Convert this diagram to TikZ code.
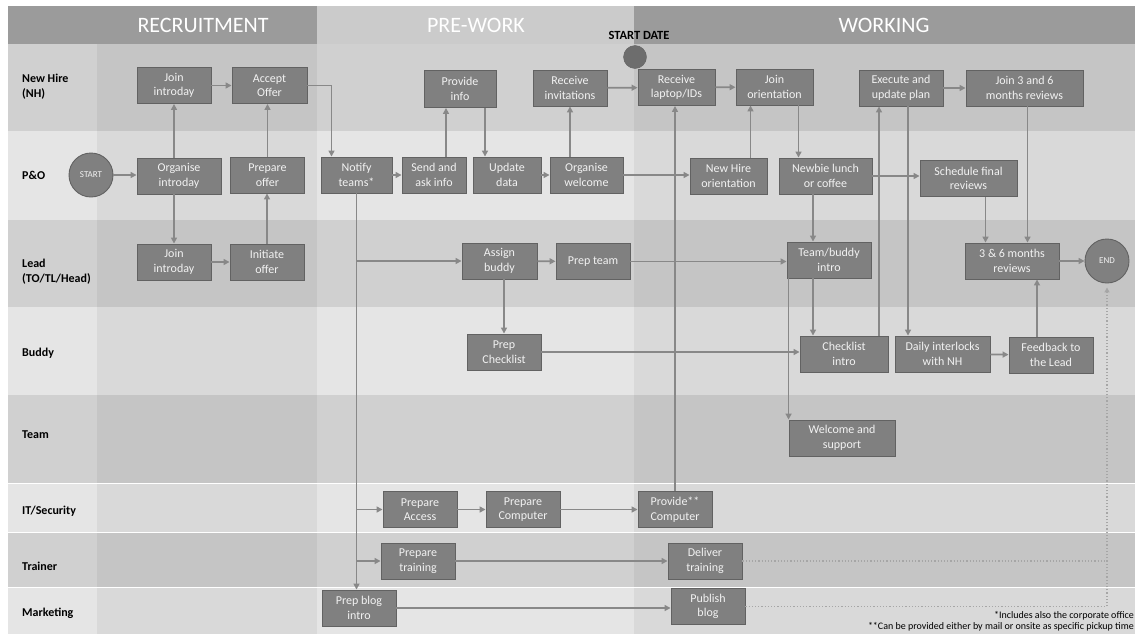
\documentclass[tikz,border=0pt]{standalone}
\usepackage{fontspec}
\setmainfont{Carlito}
\usetikzlibrary{arrows.meta,positioning,calc}
\definecolor{lanedark}{RGB}{208,208,208}
\definecolor{lanelight}{RGB}{229,229,229}
\definecolor{headdark}{RGB}{155,155,155}
\definecolor{headlight}{RGB}{203,203,203}
\definecolor{boxfill}{RGB}{128,128,128}
\definecolor{boxborder}{RGB}{98,98,98}
\definecolor{boxtext}{RGB}{242,242,242}
\definecolor{linkgrey}{RGB}{136,136,136}
\tikzset{
  stepbox/.style={draw=boxborder,fill=boxfill,line width=0.9pt,minimum width=74pt,
    minimum height=36pt,inner sep=1pt,align=center,text=boxtext,
    font=\fontsize{12}{14.5}\selectfont},
  roundnode/.style={circle,draw=boxborder,fill=boxfill,line width=0.9pt,minimum size=44pt,
    inner sep=0pt,text=boxtext,font=\fontsize{9}{10}\selectfont},
  lanelabel/.style={anchor=west,align=left,inner sep=0pt,font=\fontsize{12}{15}\selectfont\bfseries},
  phaselabel/.style={text=white,font=\fontsize{22}{26}\selectfont},
  link/.style={-{Triangle[length=6pt,width=6pt]},line width=1.8pt,draw=linkgrey},
  dotlink/.style={-{Triangle[length=5pt,width=5pt]},dotted,line width=1.2pt,draw=linkgrey!75},
}

\begin{document}
\begin{tikzpicture}[x=1pt,y=-1pt]
  \useasboundingbox (0,0) rectangle (1135,635);
  % lanes and phases
  \fill[lanedark]  (8,44)  rectangle (1135,131);
  \fill[lanelight] (8,131) rectangle (1135,220);
  \fill[lanedark]  (8,220) rectangle (1135,307);
  \fill[lanelight] (8,307) rectangle (1135,395);
  \fill[lanedark]  (8,395) rectangle (1135,483);
  \fill[lanelight] (8,483) rectangle (1135,532);
  \fill[lanedark]  (8,532) rectangle (1135,587);
  \fill[lanelight] (8,587) rectangle (1135,634);
  \fill[black,opacity=0.05] (97,44) rectangle (317,634);
  \fill[black,opacity=0.05] (634,44) rectangle (1135,634);
  \draw[white,line width=1pt] (8,483) -- (1135,483) (8,532) -- (1135,532) (8,587) -- (1135,587);
  \fill[headdark]  (8,6)   rectangle (317,44);
  \fill[headlight] (317,6) rectangle (634,44);
  \fill[headdark]  (634,6) rectangle (1135,44);

  \node[phaselabel] (recruit) at (203,25) {RECRUITMENT};
  \node[phaselabel] (prework) at (476,25) {PRE-WORK};
  \node[phaselabel] (working) at (884,25) {WORKING};

  \node[lanelabel] (lnh)    at (22,87)  {New Hire\\(NH)};
  \node[lanelabel] (lpo)    at (22,175) {P\&O};
  \node[lanelabel] (llead)  at (22,272) {Lead\\(TO/TL/Head)};
  \node[lanelabel] (lbuddy) at (22,353) {Buddy};
  \node[lanelabel] (lteam)  at (22,435) {Team};
  \node[lanelabel] (lit)    at (22,511) {IT/Security};
  \node[lanelabel] (ltrain) at (22,566) {Trainer};
  \node[lanelabel] (lmark)  at (22,613) {Marketing};

  \node[font=\fontsize{12.5}{14}\selectfont\bfseries] (startdate) at (639,35) {START DATE};
  \node[circle,draw=boxborder,fill=boxfill!85!black,minimum size=23pt,inner sep=0pt] (datemark) at (635,57) {};

  % new hire
  \node[stepbox] (nhjoin) at (174,85.5) {Join\\introday};
  \node[stepbox,minimum width=75pt] (accept) at (269.5,85.5) {Accept\\Offer};
  \node[stepbox,minimum width=72pt,minimum height=37pt] (provinfo) at (460,89) {Provide\\info};
  \node[stepbox] (recinv) at (570,88) {Receive\\invitations};
  \node[stepbox,minimum width=77pt] (laptop) at (676.5,87.5) {Receive\\laptop/IDs};
  \node[stepbox,minimum width=77pt] (joinor) at (774.5,87) {Join\\orientation};
  \node[stepbox,minimum width=84pt] (execute) at (901,88) {Execute and\\update plan};
  \node[stepbox,minimum width=117pt] (join36) at (1024.5,88) {Join 3 and 6\\months reviews};

  % p&o
  \node[roundnode] (startnode) at (91,175) {START};
  \node[stepbox,minimum width=84pt] (orgintro) at (179,176) {Organise\\introday};
  \node[stepbox] (prepoffer) at (267.5,175) {Prepare\\offer};
  \node[stepbox,minimum width=71pt] (notify) at (356.5,175) {Notify\\teams*};
  \node[stepbox,minimum width=64pt] (sendask) at (434,175) {Send and\\ask info};
  \node[stepbox,minimum width=68pt] (update) at (507,175) {Update\\data};
  \node[stepbox,minimum width=73pt] (orgwel) at (586.5,175) {Organise\\welcome};
  \node[stepbox,minimum width=77pt] (nhorient) at (728.5,176) {New Hire\\orientation};
  \node[stepbox,minimum width=93pt] (newbie) at (825.5,176) {Newbie lunch\\or coffee};
  \node[stepbox,minimum width=97pt] (schedule) at (968.5,178.5) {Schedule final\\reviews};

  % lead
  \node[stepbox] (ldjoin) at (174,262) {Join\\introday};
  \node[stepbox] (initiate) at (267,262) {Initiate\\offer};
  \node[stepbox,minimum width=75pt] (assign) at (499.5,261) {Assign\\buddy};
  \node[stepbox] (prepteam) at (593,261.5) {Prep team};
  \node[stepbox,minimum width=84pt] (teambuddy) at (829,260) {Team/buddy\\intro};
  \node[stepbox,minimum width=94pt] (reviews) at (1012,261) {3 \& 6 months\\reviews};
  \node[roundnode] (endnode) at (1107,261) {END};

  % buddy, team
  \node[stepbox] (prepcheck) at (504,352) {Prep\\Checklist};
  \node[stepbox,minimum width=88pt] (checkintro) at (844,354) {Checklist\\intro};
  \node[stepbox,minimum width=95pt] (daily) at (942.5,354) {Daily interlocks\\with NH};
  \node[stepbox,minimum width=84pt] (feedback) at (1051,355) {Feedback to\\the Lead};
  \node[stepbox,minimum width=106pt] (welcome) at (842,438) {Welcome and\\support};

  % it, trainer, marketing
  \node[stepbox] (prepaccess) at (420,509.5) {Prepare\\Access};
  \node[stepbox] (prepcomp) at (523,509.5) {Prepare\\Computer};
  \node[stepbox] (provcomp) at (675,509.5) {Provide**\\Computer};
  \node[stepbox] (preptrain) at (418,561) {Prepare\\training};
  \node[stepbox] (deliver) at (705,561) {Deliver\\training};
  \node[stepbox] (prepblog) at (359,608) {Prep blog\\intro};
  \node[stepbox] (publish) at (708,606.5) {Publish\\blog};

  \node[anchor=south east,align=right,inner sep=0pt,font=\fontsize{10}{10.5}\selectfont] (notes) at (1134,631)
    {*Includes also the corporate office\\**Can be provided either by mail or onsite as specific pickup time};

  % recruitment
  \draw[link] (startnode.east) -- (startnode.east -| orgintro.west);
  \draw[link] (nhjoin.south |- orgintro.north) -- (nhjoin.south);
  \draw[link] (ldjoin.north |- orgintro.south) -- (ldjoin.north);
  \draw[link] (nhjoin) -- (accept);
  \draw[link] (ldjoin) -- (initiate);
  \draw[link] (initiate.north) -- (initiate.north |- prepoffer.south);
  \draw[link] (prepoffer.north) -- (prepoffer.north |- accept.south);
  \draw[link] (accept.east) -| ([xshift=-25pt]notify.north);

  % pre-work
  \draw[link] (notify) -- (sendask);
  \draw[link] ([xshift=12pt]sendask.north) -- ([xshift=12pt]sendask.north |- provinfo.south);
  \draw[link] ([xshift=25pt]provinfo.south) -- ([xshift=25pt]provinfo.south |- update.north);
  \draw[link] (update) -- (orgwel);
  \draw[link] (recinv.south |- orgwel.north) -- (recinv.south);
  \draw[link] (recinv) -- (laptop);
  \draw[link] (notify.south) -- (notify.south |- prepblog.north);
  \draw[link] (notify.south |- assign.west) -- (assign.west);
  \draw[link] (notify.south |- prepaccess.west) -- (prepaccess.west);
  \draw[link] (notify.south |- preptrain.west) -- (preptrain.west);
  \draw[link] (assign) -- (prepteam);
  \draw[link] (prepcheck.north |- assign.south) -- (prepcheck.north);
  \draw[link] (prepaccess) -- (prepcomp);
  \draw[link] (prepcomp) -- (provcomp);
  \draw[link] (preptrain) -- (deliver);
  \draw[link] (prepblog.east) -- (prepblog.east -| publish.west);

  % working
  \draw[link] (orgwel.east) -- (orgwel.east -| nhorient.west);
  \draw[link] (provcomp.north) -- (provcomp.north |- laptop.south);
  \draw[link] (laptop) -- (joinor);
  \draw[link] ([xshift=22pt]nhorient.north) -- ([xshift=22pt]nhorient.north |- joinor.south);
  \draw[link] ([xshift=24pt]joinor.south) -- ([xshift=24pt]joinor.south |- newbie.north);
  \draw[link] (newbie.east) -- (newbie.east -| schedule.west);
  \draw[link] ([xshift=-16pt]teambuddy.north |- newbie.south) -- ([xshift=-16pt]teambuddy.north);
  \draw[link] (prepteam.east) -- (prepteam.east -| teambuddy.west);
  \draw[link] ([xshift=-16pt]teambuddy.south) -- ([xshift=-16pt]teambuddy.south |- checkintro.north);
  \draw[link] ([xshift=2pt]teambuddy.south west) -- ([xshift=2pt]teambuddy.south west |- welcome.north);
  \draw[link] (prepcheck.east) -- (prepcheck.east -| checkintro.west);
  \draw[link] ([xshift=-22pt]execute.south |- checkintro.north) -- ([xshift=-22pt]execute.south);
  \draw[link] ([xshift=7pt]execute.south) -- ([xshift=7pt]execute.south |- daily.north);
  \draw[link] (execute) -- (join36);
  \draw[link] (daily) -- (feedback);
  \draw[link] ([xshift=-14pt]feedback.north) -- ([xshift=-14pt]feedback.north |- reviews.south);
  \draw[link] ([xshift=17pt]schedule.south) -- ([xshift=17pt]schedule.south |- reviews.north);
  \draw[link] ([xshift=3pt]join36.south) -- ([xshift=3pt]join36.south |- reviews.north);
  \draw[link] (reviews) -- (endnode);
  \draw[dotlink] (publish.east) -- (publish.east -| endnode.south) -- ([yshift=-4pt]endnode.south);
  \draw[dotted,line width=1.2pt,draw=linkgrey!75] (deliver.east) -- (deliver.east -| endnode.south);
\end{tikzpicture}
\end{document}
